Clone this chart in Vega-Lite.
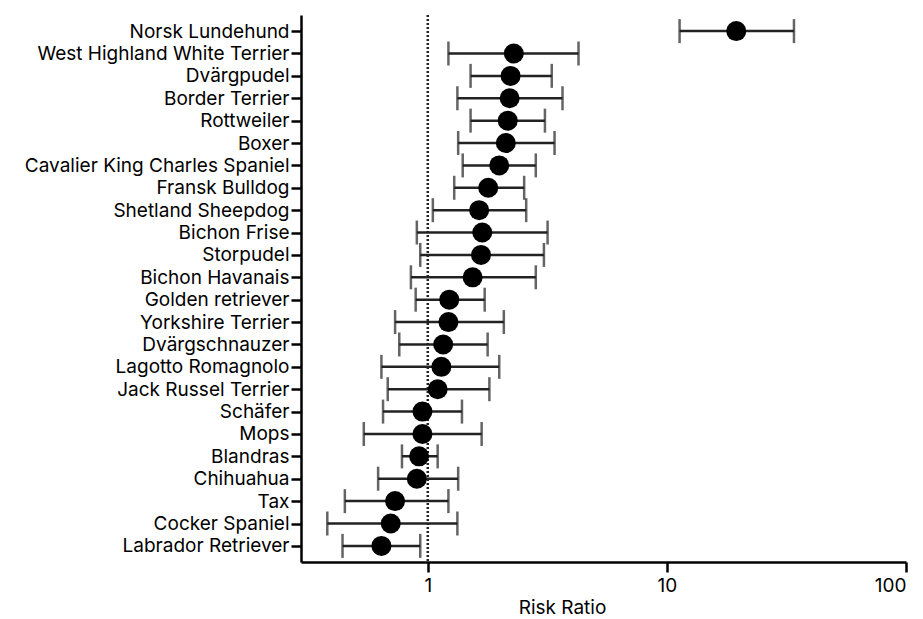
{
  "$schema": "https://vega.github.io/schema/vega-lite/v6.json",
  "width": 605,
  "height": 547,
  "padding": {"left": 24, "top": 13, "right": 12, "bottom": 0},
  "background": "white",
  "config": {
    "view": {"stroke": null},
    "font": "Inter",
    "axis": {
      "grid": false,
      "domainColor": "black",
      "domainWidth": 2.5,
      "tickColor": "black",
      "tickWidth": 2.5,
      "tickSize": 10,
      "labelColor": "black",
      "labelFont": "Inter",
      "labelFontSize": 19,
      "labelLimit": 500,
      "titleFont": "Inter",
      "titleFontSize": 19,
      "titleFontWeight": "normal",
      "titleColor": "black"
    }
  },
  "data": {
    "values": [
      {"breed": "Norsk Lundehund", "rr": 19.5, "lo": 11.3, "hi": 34.0},
      {"breed": "West Highland White Terrier", "rr": 2.29, "lo": 1.22, "hi": 4.27},
      {"breed": "Dvärgpudel", "rr": 2.22, "lo": 1.51, "hi": 3.30},
      {"breed": "Border Terrier", "rr": 2.20, "lo": 1.33, "hi": 3.66},
      {"breed": "Rottweiler", "rr": 2.16, "lo": 1.51, "hi": 3.09},
      {"breed": "Boxer", "rr": 2.12, "lo": 1.34, "hi": 3.39},
      {"breed": "Cavalier King Charles Spaniel", "rr": 1.99, "lo": 1.40, "hi": 2.83},
      {"breed": "Fransk Bulldog", "rr": 1.79, "lo": 1.29, "hi": 2.53},
      {"breed": "Shetland Sheepdog", "rr": 1.64, "lo": 1.05, "hi": 2.58},
      {"breed": "Bichon Frise", "rr": 1.69, "lo": 0.90, "hi": 3.17},
      {"breed": "Storpudel", "rr": 1.67, "lo": 0.93, "hi": 3.06},
      {"breed": "Bichon Havanais", "rr": 1.54, "lo": 0.85, "hi": 2.83},
      {"breed": "Golden retriever", "rr": 1.23, "lo": 0.89, "hi": 1.73},
      {"breed": "Yorkshire Terrier", "rr": 1.22, "lo": 0.73, "hi": 2.08},
      {"breed": "Dvärgschnauzer", "rr": 1.16, "lo": 0.76, "hi": 1.78},
      {"breed": "Lagotto Romagnolo", "rr": 1.14, "lo": 0.64, "hi": 1.99},
      {"breed": "Jack Russel Terrier", "rr": 1.10, "lo": 0.68, "hi": 1.81},
      {"breed": "Schäfer", "rr": 0.95, "lo": 0.65, "hi": 1.39},
      {"breed": "Mops", "rr": 0.95, "lo": 0.54, "hi": 1.68},
      {"breed": "Blandras", "rr": 0.92, "lo": 0.78, "hi": 1.10},
      {"breed": "Chihuahua", "rr": 0.90, "lo": 0.62, "hi": 1.34},
      {"breed": "Tax", "rr": 0.73, "lo": 0.45, "hi": 1.22},
      {"breed": "Cocker Spaniel", "rr": 0.70, "lo": 0.38, "hi": 1.33},
      {"breed": "Labrador Retriever", "rr": 0.64, "lo": 0.44, "hi": 0.93}
    ]
  },
  "encoding": {
    "y": {
      "field": "breed",
      "type": "nominal",
      "sort": null,
      "scale": {"type": "point", "padding": 0.72},
      "axis": {"title": null, "labelPadding": 2}
    }
  },
  "layer": [
    {
      "data": {"values": [{"ref": 1}]},
      "mark": {"type": "rule", "color": "#222", "strokeWidth": 2.5, "strokeDash": [2, 2]},
      "encoding": {
        "y": null,
        "x": {"field": "ref", "type": "quantitative"}
      }
    },
    {
      "mark": {"type": "rule", "color": "#222", "strokeWidth": 2.5},
      "encoding": {
        "x": {
          "field": "lo",
          "type": "quantitative",
          "scale": {"type": "log", "domain": [0.295, 100], "nice": false},
          "axis": {"title": "Risk Ratio", "titleX": 261, "values": [1, 10, 100], "format": "d", "labelPadding": 4, "titlePadding": 3}
        },
        "x2": {"field": "hi"}
      }
    },
    {
      "mark": {"type": "tick", "color": "#222", "thickness": 2.5, "size": 24, "orient": "vertical"},
      "encoding": {"x": {"field": "lo", "type": "quantitative"}}
    },
    {
      "mark": {"type": "tick", "color": "#222", "thickness": 2.5, "size": 24, "orient": "vertical"},
      "encoding": {"x": {"field": "hi", "type": "quantitative"}}
    },
    {
      "mark": {"type": "circle", "color": "black", "opacity": 1, "size": 400},
      "encoding": {"x": {"field": "rr", "type": "quantitative"}}
    }
  ]
}
